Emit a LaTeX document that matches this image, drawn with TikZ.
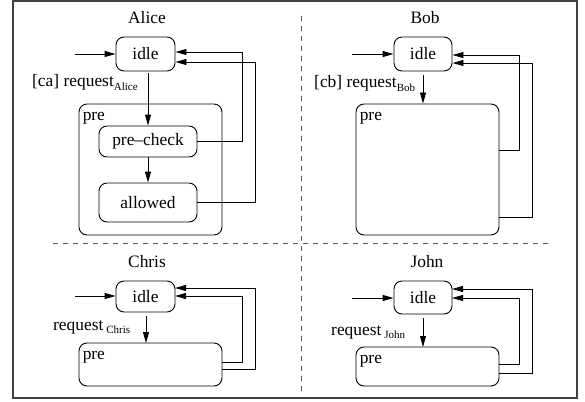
\documentclass[tikz,border=0pt]{standalone}
\usepackage{fontspec}
\setmainfont{Liberation Serif}
\usetikzlibrary{arrows.meta}
\begin{document}
\begin{tikzpicture}[x=1pt,y=-1pt,
  every node/.style={font=\fontsize{17.4}{19}\selectfont, inner sep=0pt},
  state/.style={draw, rounded corners=8pt, line width=0.9pt},
  frm/.style={draw=black!75, line width=1.2pt},
  sep/.style={draw=black!65, line width=0.8pt, dash pattern=on 5pt off 5pt},
  tr/.style={line width=0.9pt, -{Triangle[length=11pt,width=6pt]}},
  plabel/.style={anchor=north west}]
\useasboundingbox (0,0) rectangle (585,401);
% frame and separators
\path[frm] (13,1) rectangle (577,398);
\coordinate (hl) at (53,243); \coordinate (hr) at (552,243);
\coordinate (vt) at (301,16); \coordinate (vb) at (301,393);
\path[sep] (hl) -- (hr);
\path[sep] (vt) -- (vb);
\newcommand{\subtxt}[1]{\raisebox{-0.45ex}{\fontsize{11}{11}\selectfont #1}}
% ---------- Alice ----------
\node (ta) at (147,18) {Alice};
\node[state, minimum width=59pt, minimum height=34pt] (ia) at (145.5,54) {idle};
\coordinate (sa) at (75,54);
\draw[tr] (sa) -- (ia.west);
\node[state, minimum width=143pt, minimum height=131pt] (pa) at (150.5,169.5) {};
\node[plabel] (pla) at ([xshift=4pt,yshift=-9pt]pa.north west) {pre};
\node[state, minimum width=98pt, minimum height=31pt] (ca) at (148,141.5) {pre--check};
\node[state, minimum width=98pt, minimum height=39pt] (aa) at (148,202.5) {allowed};
\draw[tr] ([yshift=-2pt]ia.south -| ca.north) -- (ca.north);
\draw[tr] (ca.south) -- (aa.north);
\node[anchor=base west] (la) at (32,87) {[ca] request\subtxt{Alice}};
\draw[tr] (ca.east) -- (242,141.5) |- ([yshift=2pt]ia.east);
\draw[tr] (aa.east) -- (255,202.5) |- ([yshift=-8pt]ia.east);
% ---------- Bob ----------
\node (tb) at (425,18) {Bob};
\node[state, minimum width=58pt, minimum height=34pt] (ib) at (423,54) {idle};
\coordinate (sb) at (352,54);
\draw[tr] (sb) -- (ib.west);
\node[state, minimum width=143pt, minimum height=131pt] (pb) at (427.5,169.5) {};
\node[plabel] (plb) at ([xshift=4pt,yshift=-9pt]pb.north west) {pre};
\draw[tr] ([yshift=-4pt]ib.south) -- (ib.south |- pb.north);
\node[anchor=base west] (lb) at (314,88) {[cb] request\subtxt{Bob}};
\draw[tr] (499,150) -- (519,150) |- ([yshift=-1pt]ib.east);
\draw[tr] (499,217) -- (532,217) |- ([yshift=-9pt]ib.east);
% ---------- Chris ----------
\node (tc) at (147,262) {Chris};
\node[state, minimum width=59pt, minimum height=31pt] (ic) at (145.5,296.5) {idle};
\coordinate (sc) at (75,296);
\draw[tr] (sc) -- (sc -| ic.west);
\node[state, minimum width=143pt, minimum height=43pt] (pc) at (150.5,364.5) {};
\node[plabel] (plc) at ([xshift=4pt,yshift=-9pt]pc.north west) {pre};
\draw[tr] (146,316) -- (146,343);
\node[anchor=base west] (lc) at (53,330) {request\,\subtxt{Chris}};
\draw[tr] (222,362) -- (242,362) |- (175,296);
\draw[tr] (222,369) -- (255,369) |- (175,288);
% ---------- John ----------
\node (tj) at (427,262) {John};
\node[state, minimum width=58pt, minimum height=33pt] (ij) at (423,297.5) {idle};
\coordinate (sj) at (352,298);
\draw[tr] (sj) -- (sj -| ij.west);
\node[state, minimum width=143pt, minimum height=39pt] (pj) at (427.5,366.5) {};
\node[plabel] (plj) at ([xshift=4pt,yshift=-9pt]pj.north west) {pre};
\draw[tr] (423,318) -- (423,347);
\node[anchor=base west] (lj) at (331,335) {request\,\subtxt{John}};
\draw[tr] (499,364) -- (519,364) |- (452,298);
\draw[tr] (499,373) -- (532,373) |- (452,289);
\end{tikzpicture}
\end{document}
